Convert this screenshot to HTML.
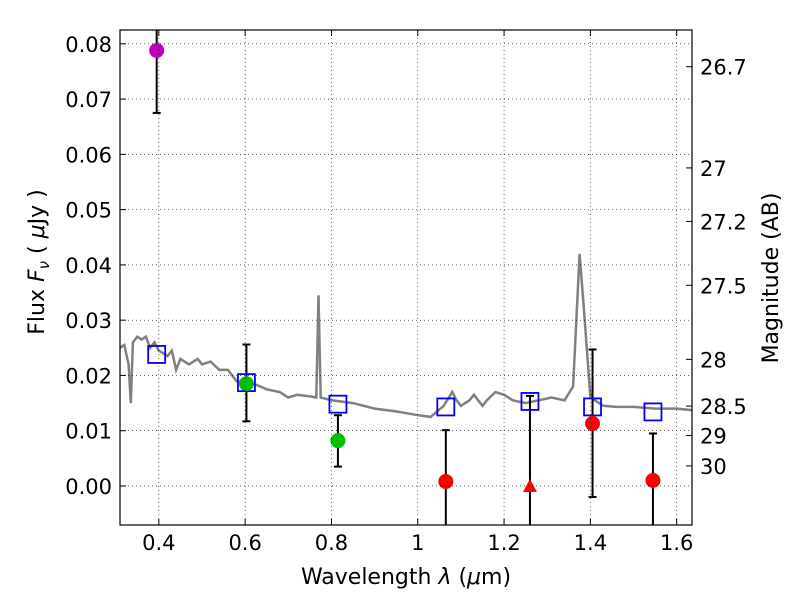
<!DOCTYPE html>
<html><head><meta charset="utf-8"><style>
body{margin:0;background:#fff;}
svg text{font-family:"DejaVu Sans","Liberation Sans",sans-serif;}
</style></head><body>
<svg id="chart" width="800" height="600" xmlns="http://www.w3.org/2000/svg"></svg>
<script>
const xTicks=[0.4,0.6,0.8,1.0,1.2,1.4,1.6];
const xTickLabels=["0.4","0.6","0.8","1","1.2","1.4","1.6"];
const yTicks=[0,0.01,0.02,0.03,0.04,0.05,0.06,0.07,0.08];
const yTickLabels=["0.00","0.01","0.02","0.03","0.04","0.05","0.06","0.07","0.08"];
const magTicks=[26.7,27,27.2,27.5,28,28.5,29,30];
const magTickLabels=["26.7","27","27.2","27.5","28","28.5","29","30"];
const specWave=[0.31,0.32,0.33,0.335,0.34,0.35,0.36,0.37,0.38,0.39,0.40,0.41,0.42,0.43,0.44,0.45,0.47,0.49,0.50,0.52,0.54,0.56,0.58,0.60,0.62,0.65,0.68,0.70,0.72,0.75,0.765,0.77,0.775,0.80,0.85,0.90,0.95,1.00,1.03,1.06,1.08,1.09,1.10,1.12,1.13,1.15,1.16,1.18,1.20,1.22,1.25,1.28,1.31,1.34,1.36,1.375,1.385,1.40,1.43,1.46,1.50,1.55,1.60,1.64];
const specFlux=[0.025,0.0255,0.022,0.015,0.026,0.027,0.0265,0.027,0.025,0.026,0.0245,0.024,0.0235,0.0245,0.021,0.023,0.022,0.023,0.022,0.0225,0.021,0.021,0.019,0.0185,0.0185,0.0175,0.017,0.016,0.0165,0.0162,0.016,0.0345,0.016,0.0155,0.015,0.014,0.0135,0.0128,0.0125,0.0145,0.017,0.0155,0.0145,0.0155,0.0165,0.0145,0.0155,0.017,0.0165,0.0155,0.015,0.0155,0.016,0.0155,0.018,0.042,0.032,0.016,0.0145,0.0143,0.0143,0.014,0.014,0.0137];
const modelWave=[0.395,0.603,0.815,1.065,1.26,1.405,1.545];
const modelFlux=[0.0238,0.0187,0.0148,0.0143,0.0153,0.0143,0.0134];
const obsWave=[0.395,0.603,0.815,1.065,1.26,1.405,1.545];
const obsFlux=[0.0788,0.0185,0.0082,0.0008,0.0,0.0113,0.001];
const obsLow=[0.0675,0.0117,0.0035,-0.01,-0.01,-0.002,-0.01];
const obsHigh=[0.09,0.0256,0.0128,0.0101,0.0163,0.0247,0.0095];
const obsColor=["#bf00bf","#00c000","#00c000","red","red","red","red"];
const obsShape=["circle","circle","circle","circle","triangle","circle","circle"];

const L=120,R=692,T=30,B=525,XMIN=0.31,XMAX=1.6355,YMIN=-0.00706,YMAX=0.0825;
const sx=v=>L+(v-XMIN)/(XMAX-XMIN)*(R-L);
const sy=v=>B-(v-YMIN)/(YMAX-YMIN)*(B-T);
const svg=document.getElementById('chart');
const NS="http://www.w3.org/2000/svg";
function mk(tag,attrs,parent){const e=document.createElementNS(NS,tag);for(const k in attrs)e.setAttribute(k,attrs[k]);(parent||svg).appendChild(e);return e;}

const defs=mk('defs',{});const cp=mk('clipPath',{id:'clip'},defs);mk('rect',{x:L,y:T,width:R-L,height:B-T},cp);
const plot=mk('g',{'clip-path':'url(#clip)'});



xTicks.forEach(v=>{const g=mk('line',{x1:sx(v),x2:sx(v),y1:T,y2:B,stroke:'#000','stroke-width':0.6,'stroke-dasharray':'1,3'});

});
yTicks.forEach(v=>{const g=mk('line',{x1:L,x2:R,y1:sy(v),y2:sy(v),stroke:'#000','stroke-width':0.6,'stroke-dasharray':'1,3'});

});

let d=specWave.map((w,i)=>(i?'L':'M')+sx(w).toFixed(1)+','+sy(specFlux[i]).toFixed(1)).join(' ');
const sp=mk('path',{d:d,fill:'none',stroke:'#808080','stroke-width':2.5},plot);



obsWave.forEach((w,i)=>{const x=sx(w);
const e=mk('line',{x1:x,x2:x,y1:sy(obsLow[i]),y2:sy(obsHigh[i]),stroke:'#000','stroke-width':2},plot);


[obsLow[i],obsHigh[i]].forEach(v=>{const c=mk('line',{x1:x-4,x2:x+4,y1:sy(v),y2:sy(v),stroke:'#000','stroke-width':2},plot);

});});

modelWave.forEach((w,i)=>{const r=mk('rect',{x:sx(w)-8.5,y:sy(modelFlux[i])-8.5,width:17,height:17,fill:'none',stroke:'#0000ff','stroke-width':1.8},plot);

});

obsWave.forEach((w,i)=>{const x=sx(w),y=sy(obsFlux[i]);let m;
if(obsShape[i]==='triangle'){m=mk('polygon',{points:`${x},${y-7} ${x-7},${y+6} ${x+7},${y+6}`,fill:obsColor[i]},plot);}
else{m=mk('circle',{cx:x,cy:y,r:7.5,fill:obsColor[i]},plot);}

});

const fr=mk('rect',{x:L,y:T,width:R-L,height:B-T,fill:'none',stroke:'#000','stroke-width':1.2});



xTicks.forEach((v,i)=>{const x=sx(v);
mk('line',{x1:x,x2:x,y1:B,y2:B-6,stroke:'#000'});mk('line',{x1:x,x2:x,y1:T,y2:T+6,stroke:'#000'});
const t=mk('text',{x:x,y:B+25,'font-size':21,'text-anchor':'middle'});t.textContent=xTickLabels[i];

});
yTicks.forEach((v,i)=>{const y=sy(v);
mk('line',{x1:L,x2:L+6,y1:y,y2:y,stroke:'#000'});
const t=mk('text',{x:L-8,y:y+8,'font-size':21,'text-anchor':'end'});t.textContent=yTickLabels[i];

});
magTicks.forEach((m,i)=>{const y=sy(Math.pow(10,(23.9-m)/2.5));
mk('line',{x1:R,x2:R-6,y1:y,y2:y,stroke:'#000'});
const t=mk('text',{x:R+8,y:y+8,'font-size':21});t.textContent=magTickLabels[i];

});

const xt=mk('text',{x:406,y:584,'font-size':22,'text-anchor':'middle'});
xt.innerHTML='Wavelength  <tspan font-style="italic">λ</tspan> (<tspan font-style="italic">μ</tspan>m)';


const yt=mk('text',{x:0,y:0,'font-size':22,'text-anchor':'middle',transform:'translate(44,262) rotate(-90)'});
yt.innerHTML='Flux  <tspan font-style="italic">F</tspan><tspan font-style="italic" font-size="15" dy="5">ν</tspan><tspan dy="-5">  (  </tspan><tspan font-style="italic">μ</tspan>Jy )';


const rt=mk('text',{x:0,y:0,'font-size':22,'text-anchor':'middle',transform:'translate(778,278) rotate(-90)'});
rt.textContent='Magnitude (AB)';


</script>
</body></html>
